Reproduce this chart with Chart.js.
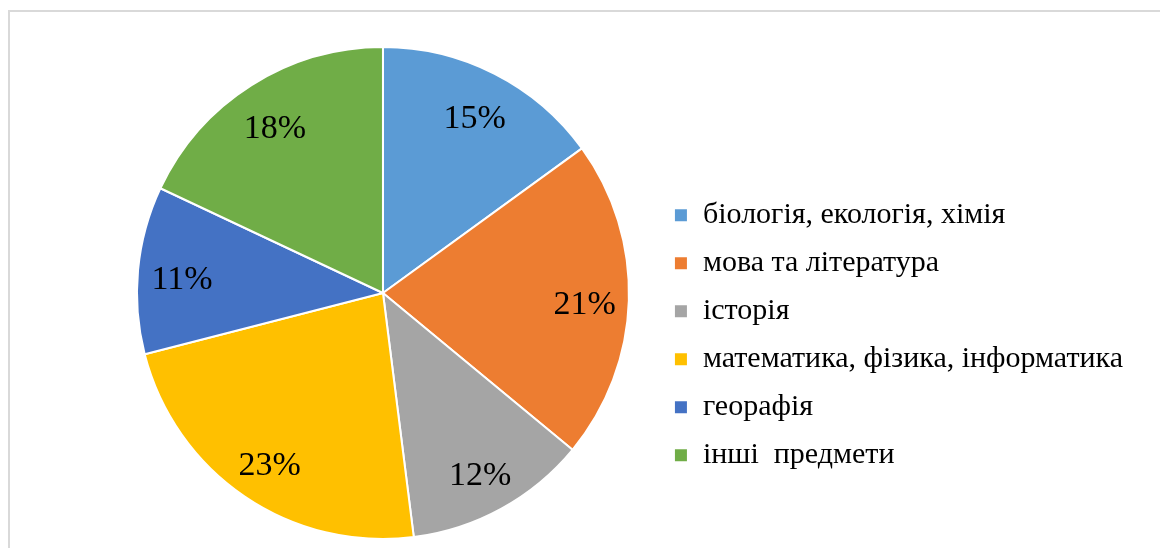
<!DOCTYPE html>
<html>
<head>
<meta charset="utf-8">
<script src="https://cdn.jsdelivr.net/npm/chart.js@4/dist/chart.umd.min.js"></script>
<style>
  html, body { margin: 0; padding: 0; background: #fff; }
  #wrap { position: relative; width: 1160px; height: 548px; overflow: hidden; }
  #frame { position: absolute; left: 8px; top: 10px; width: 1200px; height: 600px; border: 2px solid #d9d9d9; box-sizing: border-box; }
  canvas { position: absolute; left: 0; top: 0; }
</style>
</head>
<body>
<div id="wrap">
  <div id="frame"></div>
  <canvas id="pie" width="1160" height="548"></canvas>
</div>
<script>
// предмети та частки (%)
var subjects = ['біологія, екологія, хімія', 'мова та література', 'історія',
                'математика, фізика, інформатика', 'георафія', 'інші  предмети'];
var shares = [15, 21, 12, 23, 11, 18];
var colors = ['#5B9BD5', '#ED7D31', '#A5A5A5', '#FFC000', '#4472C4', '#70AD47'];

// підписи відсотків усередині секторів
var pctLabels = {
    id: 'pctLabels',
    afterDatasetsDraw: function(chart) {
        var ctx = chart.ctx;
        var meta = chart.getDatasetMeta(0);
        ctx.save();
        ctx.font = '34px "Liberation Serif", "Times New Roman", serif';
        ctx.fillStyle = '#000';
        ctx.textAlign = 'center';
        ctx.textBaseline = 'middle';
        meta.data.forEach(function(arc, i) {
            var p = arc.getProps(['x', 'y', 'startAngle', 'endAngle', 'outerRadius']);
            var a = (p.startAngle + p.endAngle) / 2;
            var r = p.outerRadius * 0.82;
            ctx.fillText(shares[i] + '%', p.x + Math.cos(a) * r, p.y + Math.sin(a) * r + 6);
        });
        ctx.restore();
    }
};

var ctx = document.getElementById('pie').getContext('2d');
var myChart = new Chart(ctx, {
    type: 'pie',
    data: {
        labels: subjects,
        datasets: [{
            data: shares,
            backgroundColor: colors,
            borderColor: '#ffffff',
            borderWidth: 2,
            radius: 246
        }]
    },
    options: {
        responsive: false,
        animation: false,
        layout: {
            padding: { left: 110, right: 27, top: 46, bottom: 8 }
        },
        plugins: {
            legend: {
                position: 'right',
                title: { display: true, text: ' ', padding: { top: 70, bottom: 0 } },
                labels: {
                    boxWidth: 14,
                    boxHeight: 14,
                    padding: 18,
                    color: '#000',
                    font: { family: '"Liberation Serif", "Times New Roman", serif', size: 30 }
                }
            },
            tooltip: { enabled: false }
        }
    },
    plugins: [pctLabels]
});
</script>
</body>
</html>
